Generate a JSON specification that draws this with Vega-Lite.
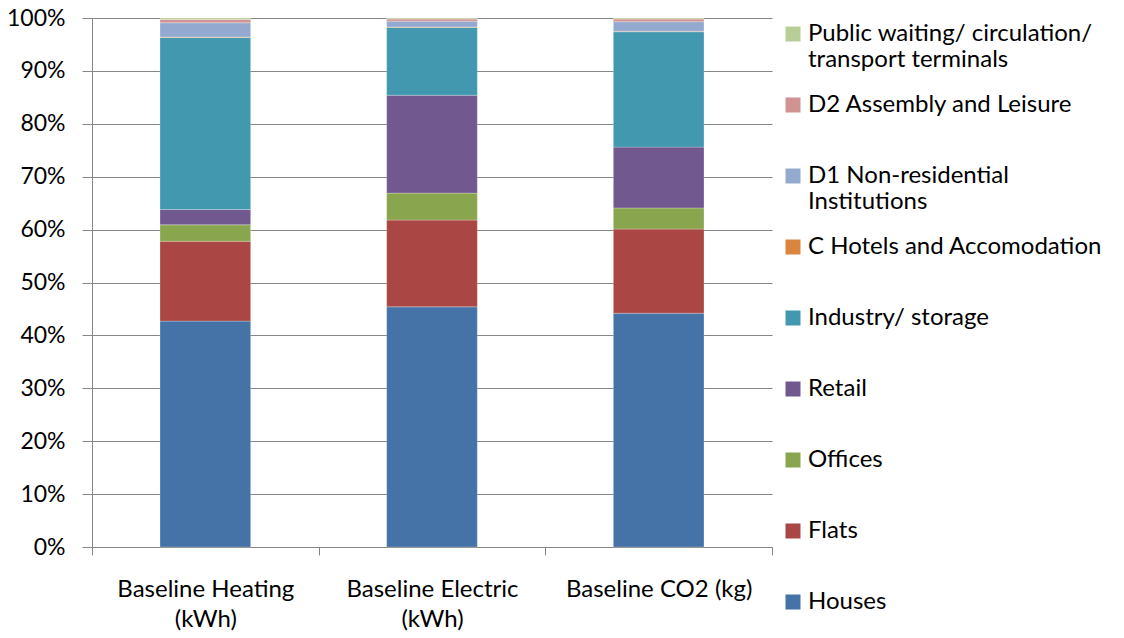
{
  "$schema": "https://vega.github.io/schema/vega-lite/v6.json",
  "width": 680,
  "height": 529,
  "autosize": {"type": "none"},
  "padding": {"left": 92, "top": 18, "right": 352, "bottom": 91},
  "background": "white",
  "config": {
    "view": {"stroke": null},
    "font": "Lato",
    "axis": {
      "labelFont": "Lato",
      "labelFontSize": 23,
      "labelColor": "#000000",
      "domainColor": "#868686",
      "tickColor": "#868686",
      "gridColor": "#868686",
      "title": null
    },
    "legend": {
      "labelFont": "Lato",
      "labelFontSize": 24,
      "labelColor": "#000000"
    }
  },
  "data": {
    "values": [
      {"measure": "Baseline Heating (kWh)", "use": "Houses", "k": 1, "share": 42.7},
      {"measure": "Baseline Heating (kWh)", "use": "Flats", "k": 2, "share": 15.1},
      {"measure": "Baseline Heating (kWh)", "use": "Offices", "k": 3, "share": 3.1},
      {"measure": "Baseline Heating (kWh)", "use": "Retail", "k": 4, "share": 2.9},
      {"measure": "Baseline Heating (kWh)", "use": "Industry/ storage", "k": 5, "share": 32.5},
      {"measure": "Baseline Heating (kWh)", "use": "C Hotels and Accomodation", "k": 6, "share": 0.1},
      {"measure": "Baseline Heating (kWh)", "use": "D1 Non-residential Institutions", "k": 7, "share": 2.7},
      {"measure": "Baseline Heating (kWh)", "use": "D2 Assembly and Leisure", "k": 8, "share": 0.6},
      {"measure": "Baseline Heating (kWh)", "use": "Public waiting/ circulation/ transport terminals", "k": 9, "share": 0.3},

      {"measure": "Baseline Electric (kWh)", "use": "Houses", "k": 1, "share": 45.4},
      {"measure": "Baseline Electric (kWh)", "use": "Flats", "k": 2, "share": 16.4},
      {"measure": "Baseline Electric (kWh)", "use": "Offices", "k": 3, "share": 5.1},
      {"measure": "Baseline Electric (kWh)", "use": "Retail", "k": 4, "share": 18.5},
      {"measure": "Baseline Electric (kWh)", "use": "Industry/ storage", "k": 5, "share": 12.8},
      {"measure": "Baseline Electric (kWh)", "use": "C Hotels and Accomodation", "k": 6, "share": 0.1},
      {"measure": "Baseline Electric (kWh)", "use": "D1 Non-residential Institutions", "k": 7, "share": 1.1},
      {"measure": "Baseline Electric (kWh)", "use": "D2 Assembly and Leisure", "k": 8, "share": 0.4},
      {"measure": "Baseline Electric (kWh)", "use": "Public waiting/ circulation/ transport terminals", "k": 9, "share": 0.2},

      {"measure": "Baseline CO2 (kg)", "use": "Houses", "k": 1, "share": 44.2},
      {"measure": "Baseline CO2 (kg)", "use": "Flats", "k": 2, "share": 15.9},
      {"measure": "Baseline CO2 (kg)", "use": "Offices", "k": 3, "share": 4.0},
      {"measure": "Baseline CO2 (kg)", "use": "Retail", "k": 4, "share": 11.5},
      {"measure": "Baseline CO2 (kg)", "use": "Industry/ storage", "k": 5, "share": 21.8},
      {"measure": "Baseline CO2 (kg)", "use": "C Hotels and Accomodation", "k": 6, "share": 0.1},
      {"measure": "Baseline CO2 (kg)", "use": "D1 Non-residential Institutions", "k": 7, "share": 1.8},
      {"measure": "Baseline CO2 (kg)", "use": "D2 Assembly and Leisure", "k": 8, "share": 0.5},
      {"measure": "Baseline CO2 (kg)", "use": "Public waiting/ circulation/ transport terminals", "k": 9, "share": 0.2}
    ]
  },
  "mark": {"type": "bar", "width": {"band": 0.4}, "stroke": "#ffffff", "strokeOpacity": 0.35, "strokeWidth": 0.75},
  "encoding": {
    "x": {
      "field": "measure",
      "type": "nominal",
      "sort": ["Baseline Heating (kWh)", "Baseline Electric (kWh)", "Baseline CO2 (kg)"],
      "scale": {"paddingInner": 0, "paddingOuter": 0},
      "axis": {
        "labelAngle": 0,
        "tickBand": "extent",
        "tickSize": 8,
        "labelPadding": 22,
        "labelBaseline": "top",
        "labelFontSize": 24,
        "labelLineHeight": 30,
        "labelLimit": 300,
        "grid": false,
        "labelExpr": "datum.label === 'Baseline CO2 (kg)' ? datum.label : split(replace(datum.label, ' (', '|('), '|')"
      }
    },
    "y": {
      "field": "share",
      "type": "quantitative",
      "stack": "normalize",
      "scale": {"domain": [0, 1]},
      "axis": {
        "values": [0, 0.1, 0.2, 0.3, 0.4, 0.5, 0.6, 0.7, 0.8, 0.9, 1],
        "format": ".0%",
        "grid": true,
        "tickSize": 10,
        "labelPadding": 17
      }
    },
    "order": {"field": "k", "type": "quantitative"},
    "color": {
      "field": "use",
      "type": "nominal",
      "sort": [
        "Public waiting/ circulation/ transport terminals",
        "D2 Assembly and Leisure",
        "D1 Non-residential Institutions",
        "C Hotels and Accomodation",
        "Industry/ storage",
        "Retail",
        "Offices",
        "Flats",
        "Houses"
      ],
      "scale": {
        "domain": [
          "Public waiting/ circulation/ transport terminals",
          "D2 Assembly and Leisure",
          "D1 Non-residential Institutions",
          "C Hotels and Accomodation",
          "Industry/ storage",
          "Retail",
          "Offices",
          "Flats",
          "Houses"
        ],
        "range": ["#B9CD96", "#D19392", "#93A9CF", "#DB843D", "#4198AF", "#71588F", "#89A54E", "#AA4643", "#4572A7"]
      },
      "legend": {
        "title": null,
        "orient": "none",
        "legendX": 689,
        "legendY": 4,
        "padding": 0,
        "symbolType": "square",
        "symbolSize": 225,
        "symbolStrokeWidth": 0,
        "symbolOpacity": 1,
        "labelOffset": 3,
        "labelLimit": 400,
        "labelLineHeight": 30,
        "gridAlign": "all",
        "rowPadding": 21,
        "labelExpr": "datum.label === 'Public waiting/ circulation/ transport terminals' ? ['Public waiting/ circulation/', 'transport terminals'] : datum.label === 'D1 Non-residential Institutions' ? ['D1 Non-residential', 'Institutions'] : datum.label"
      }
    }
  }
}
